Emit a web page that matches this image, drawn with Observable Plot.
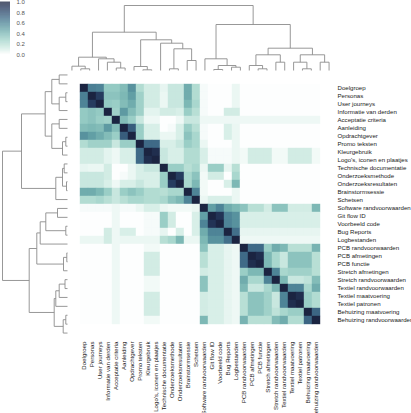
<!DOCTYPE html>
<html><head><meta charset="utf-8">
<script src="https://cdn.jsdelivr.net/npm/d3@7"></script>
<script src="https://cdn.jsdelivr.net/npm/@observablehq/plot@0.6"></script>
<style>
body{margin:0;background:#fff;}
#chart{position:relative;width:411px;height:413px;overflow:hidden;font-family:"Liberation Sans",Arial,sans-serif;}
#chart svg{position:absolute;left:0;top:0;overflow:visible;background:transparent}
</style></head><body><div id="chart"></div>
<script>
const labels = ["Doelgroep","Personas","User journeys","Informatie van derden","Acceptatie criteria","Aanleiding","Opdrachtgever","Promo teksten","Kleurgebruik","Logo's, iconen en plaatjes","Technische documentatie","Onderzoeksmethode","Onderzoeksresultaten","Brainstormsessie","Schetsen","Software randvoorwaarden","Git flow ID","Voorbeeld code","Bug Reports","Logbestanden","PCB randvoorwaarden","PCB afmetingen","PCB functie","Stretch afmetingen","Stretch randvoorwaarden","Textiel randvoorwaarden","Textiel maatvoering","Textiel patronen","Behuizing maatvoering","Behuizing randvoorwaarden"];

// upper triangle: upper[r] holds values for columns r+1 .. 29
const upper = [
 [.62,.6,.32,.32,.38,.55,.22,.12,.12,.06,.15,.15,.45,.22,.02,0,0,0,.05,0,0,0,0,0,0,0,0,0,0],
 [.88,.35,.35,.4,.5,.28,.12,.12,.05,.15,.15,.45,.22,.02,0,0,0,.05,0,0,0,0,0,0,0,0,0,0],
 [.32,.3,.38,.45,.28,.12,.12,.05,.15,.15,.4,.25,.02,0,0,0,.05,0,0,0,0,0,0,0,0,0,0],
 [.28,.52,.38,.28,.07,.07,.12,.12,.1,.3,.2,.02,0,0,.12,.12,0,0,0,0,0,0,0,0,0,0],
 [.38,.3,.15,.04,.04,0,0,.04,.15,.15,.04,.04,.04,.04,.04,.04,.04,.04,.04,.04,.04,.04,.04,.04,.04],
 [.75,.3,.1,.1,0,.02,.1,.3,.2,.02,0,0,.1,.05,0,0,0,0,0,0,0,0,0,0],
 [.3,.1,.1,.05,.05,.1,.35,.25,.02,0,0,.1,.05,0,0,0,0,0,0,0,0,0,0],
 [.7,.7,.1,.1,.15,.3,.25,.05,0,0,0,.05,0,0,0,0,0,0,0,0,0,0],
 [.95,.15,.1,.1,.22,.22,.1,.02,.02,.02,.05,.03,.12,.12,.12,.03,.03,.12,.12,.12,.03],
 [.15,.1,.1,.22,.22,.1,.02,.02,.02,.05,.03,.12,.12,.12,.03,.03,.12,.12,.12,.03],
 [.3,.3,.2,.25,.05,.3,.3,.06,.2,0,0,0,0,0,0,0,0,0,0],
 [.88,.25,.35,.03,.12,.12,0,.25,0,0,0,0,0,0,0,0,0,0],
 [.25,.4,.03,0,0,.1,.4,0,0,0,0,0,0,0,0,0,0],
 [.6,.03,0,0,0,.05,0,0,0,0,0,0,0,0,0,0],
 [.05,.1,.1,.1,.05,0,0,0,0,0,0,0,0,0,0],
 [.5,.6,.45,.4,.35,.2,.2,.12,.35,.35,.12,.12,.12,.4],
 [.92,.6,.55,.1,.1,.1,.1,.1,.1,.1,.1,.1,.1],
 [.6,.55,.1,.1,.1,.1,.1,.1,.1,.1,.1,.1],
 [.68,.06,.06,.06,.06,.06,.06,.06,.06,.06,.06],
 [.04,.04,.04,.04,.04,.04,.04,.04,.04,.04],
 [.7,.7,.3,.45,.4,.2,.2,.2,.42],
 [.95,.4,.25,.15,.35,.35,.35,.2],
 [.4,.25,.15,.35,.35,.35,.2],
 [.6,.25,.28,.28,.28,.2],
 [.4,.15,.15,.18,.38],
 [.6,.6,.25,.45],
 [.95,.3,.22],
 [.3,.22],
 [.72]
];

// dendrogram merges: [childA, childB, height]; new cluster ids start at 30
const merges = [
 [1,2,1.7],[0,30,4.3],[5,6,2.5],[4,32,8.3],[3,33,11.7],[31,34,13.3],
 [8,9,0.7],[7,36,4],[11,12,1.7],[13,14,10],[38,39,21.7],[10,40,27.3],[37,41,30.7],[35,42,38.3],
 [16,17,1],[18,19,3.3],[44,45,5],[15,46,11.7],
 [21,22,1.7],[20,48,5],[23,24,8.3],[49,50,15.7],[26,27,1.7],[25,52,8.3],[28,29,8.3],[53,54,15.7],[51,55,22.3],
 [47,56,46],[43,57,65]
];

const colorTicks = [0,0.2,0.4,0.6,0.8,1.0];
const colorDomain = [0,.1,.2,.3,.4,.5,.6,.7,.8,.9,1];
const colorRange = ["#fdfefe","#d8efe8","#b8dfd5","#9acec6","#7db8b5","#629fa5","#4e8497","#3f6a87","#304f71","#24375a","#1b2441"];

const n = labels.length;
const cells = [];
for (let r = 0; r < n; r++) for (let c = 0; c < n; c++) {
  const v = r === c ? 1 : r < c ? upper[r][c - r - 1] : upper[c][r - c - 1];
  cells.push({row: labels[r], col: labels[c], value: v});
}
const colorScale = {type: "linear", domain: colorDomain, range: colorRange, interpolate: "rgb"};

// dendrogram segments
const pos = [], ht = [];
for (let i = 0; i < n; i++) { pos[i] = i + 0.5; ht[i] = 0; }
const segs = [];
merges.forEach(([a, b, h], k) => {
  const id = n + k;
  pos[id] = (pos[a] + pos[b]) / 2; ht[id] = h;
  segs.push({p1: pos[a], h1: ht[a], p2: pos[a], h2: h});
  segs.push({p1: pos[a], h1: h, p2: pos[b], h2: h});
  segs.push({p1: pos[b], h1: ht[b], p2: pos[b], h2: h});
});
const maxH = d3.max(merges, d => d[2]);
const font = "'Liberation Sans', Arial, sans-serif";
const dendroStroke = "#8c8c8c";
const labelSize = 6.1;

const heatPlot = Plot.plot({
  width: 411, height: 413, marginLeft: 67, marginRight: 78, marginTop: 70, marginBottom: 76,
  x: {domain: labels, padding: 0, axis: null},
  y: {domain: labels, padding: 0, axis: null},
  color: colorScale,
  style: {fontFamily: font, background: "transparent"},
  marks: [
    Plot.cell(cells, {x: "col", y: "row", fill: "value", inset: -0.2}),
    Plot.axisY({anchor: "right", tickSize: 0, tickPadding: 4, fontSize: labelSize, fill: "#222", label: null}),
    Plot.axisX({anchor: "bottom", tickSize: 0, tickPadding: 4, tickRotate: -90, fontSize: labelSize, fill: "#222", label: null})
  ]
});

const topDendro = Plot.plot({
  width: 411, height: 70, marginLeft: 67, marginRight: 78, marginTop: 5, marginBottom: 0,
  x: {domain: [0, n], axis: null}, y: {domain: [0, maxH], axis: null},
  style: {background: "transparent"},
  marks: [Plot.link(segs, {x1: "p1", y1: "h1", x2: "p2", y2: "h2", stroke: dendroStroke, strokeWidth: 0.9})]
});

const leftDendro = Plot.plot({
  width: 67, height: 413, marginLeft: 2, marginRight: 0, marginTop: 70, marginBottom: 76,
  x: {domain: [0, maxH], reverse: true, axis: null}, y: {domain: [0, n], axis: null},
  style: {background: "transparent"},
  marks: [Plot.link(segs, {x1: "h1", y1: "p1", x2: "h2", y2: "p2", stroke: dendroStroke, strokeWidth: 0.9})]
});

const step = 0.005;
const colorBar = Plot.plot({
  width: 30, height: 58, marginLeft: 0, marginRight: 20, marginTop: 1.7, marginBottom: 3.7,
  x: {domain: [0, 1], axis: null}, y: {domain: [0, 1], axis: null},
  color: colorScale,
  style: {fontFamily: font, background: "transparent"},
  marks: [
    Plot.rect(d3.range(0, 1, step), {x1: 0, x2: 1, y1: d => d, y2: d => d + step + 0.001, fill: d => d + step / 2}),
    Plot.axisY(colorTicks, {anchor: "right", tickSize: 0, tickPadding: 6, tickFormat: d => d.toFixed(1), fontSize: 6, fill: "#555", label: null})
  ]
});

const chartRoot = document.getElementById("chart");
[heatPlot, topDendro, leftDendro, colorBar].forEach(s => chartRoot.appendChild(s));
</script></body></html>
